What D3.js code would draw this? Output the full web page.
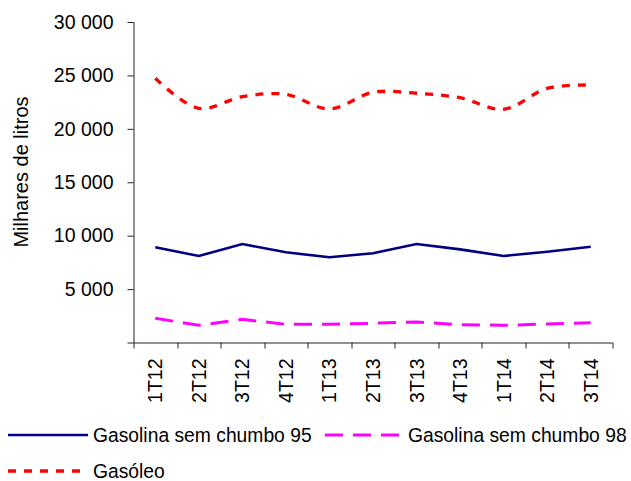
<html>
<head>
    <meta charset="utf-8">
    <title>Milhares de litros</title>
    <script src="https://d3js.org/d3.v7.min.js"></script>
    <style>
        body { margin: 0; background: #fff; }
        text { font-family: "Liberation Sans", Arial, sans-serif; fill: #000; }
    </style>
</head>
<body>
    <div id="cont"></div>
    <script>
        var categories = ['1T12', '2T12', '3T12', '4T12', '1T13', '2T13', '3T13', '4T13', '1T14', '2T14', '3T14'];
        var gasolina95 = [8910, 8100, 9220, 8440, 7980, 8350, 9220, 8720, 8100, 8500, 8970];
        var gasolina98 = [2270, 1610, 2170, 1700, 1700, 1800, 1920, 1670, 1610, 1730, 1850];
        var gasoleo = [24730, 21920, 23010, 23230, 21860, 23420, 23330, 22910, 21830, 23790, 24100];
        var yTicks = [0, 5000, 10000, 15000, 20000, 25000, 30000];
        var seriesNames = ['Gasolina sem chumbo 95', 'Gasolina sem chumbo 98', 'Gasóleo'];

        (function() {
            var W = 631, H = 481,
                margin = { top: 22, right: 18.5, bottom: 138.5, left: 133.5 },
                width = W - margin.left - margin.right,
                height = H - margin.top - margin.bottom;

            var fmt = d3.formatLocale({ decimal: ',', thousands: ' ', grouping: [3], currency: ['', ''] }).format(',d');

            var series = [
                { name: seriesNames[0], values: gasolina95, color: '#000080', width: 2.6, dash: null, curve: d3.curveLinear },
                { name: seriesNames[1], values: gasolina98, color: '#ff00ff', width: 3, dash: '18,10', curve: d3.curveLinear },
                { name: seriesNames[2], values: gasoleo, color: '#ff0000', width: 3.3, dash: '8,8', curve: d3.curveCatmullRom }
            ];

            var svg = d3.select('#cont').append('svg')
                .attr('width', W)
                .attr('height', H);

            var g = svg.append('g')
                .attr('transform', 'translate(' + margin.left + ',' + margin.top + ')');

            var xScale = d3.scaleBand().domain(categories).range([0, width]).padding(0);
            var yScale = d3.scaleLinear().domain([0, 30000]).range([height, 0]);

            // y axis
            var yAxis = d3.axisLeft(yScale)
                .tickValues(yTicks)
                .tickSize(6)
                .tickPadding(14)
                .tickFormat(function(d) { return d === 0 ? '' : fmt(d); });
            var ya = g.append('g').attr('class', 'yaxis').call(yAxis);
            ya.select('.domain').attr('stroke', '#222').attr('d', 'M0.5,' + yScale(30000) + 'V' + height);
            ya.selectAll('.tick line').attr('stroke', '#222');
            ya.selectAll('text').style('font-size', '19.5px').attr('font-family', null);

            // x axis: labels at band centres, ticks at band edges
            var xAxis = d3.axisBottom(xScale).tickSize(0).tickPadding(0);
            var xa = g.append('g').attr('class', 'xaxis')
                .attr('transform', 'translate(0,' + height + ')')
                .call(xAxis);
            xa.select('.domain').attr('stroke', '#222').attr('d', 'M0,0.5H' + width);
            xa.selectAll('text')
                .style('font-size', '19.5px')
                .attr('font-family', null)
                .style('text-anchor', 'end')
                .attr('x', -16)
                .attr('y', 0)
                .attr('dy', '0.36em')
                .attr('transform', 'rotate(-90)');

            var edges = d3.range(categories.length + 1).map(function(i) {
                return xScale.range()[0] + i * xScale.step();
            });
            xa.selectAll('.edge')
                .data(edges)
                .enter()
                .append('line')
                .attr('class', 'edge')
                .attr('x1', function(d) { return Math.round(d) + 0.5; })
                .attr('x2', function(d) { return Math.round(d) + 0.5; })
                .attr('y1', 0)
                .attr('y2', 6)
                .attr('stroke', '#222');

            // y title
            svg.append('text')
                .attr('transform', 'translate(21,172) rotate(-90)')
                .attr('text-anchor', 'middle')
                .attr('dy', '0.35em')
                .style('font-size', '20px')
                .text('Milhares de litros');

            // lines
            series.forEach(function(s) {
                var line = d3.line()
                    .x(function(d, i) { return xScale(categories[i]) + xScale.bandwidth() / 2; })
                    .y(function(d) { return yScale(d); })
                    .curve(s.curve);
                g.append('path')
                    .datum(s.values)
                    .attr('fill', 'none')
                    .attr('stroke', s.color)
                    .attr('stroke-width', s.width)
                    .attr('stroke-dasharray', s.dash)
                    .attr('d', line);
            });

            // legend
            var legendPos = [
                { x: 8, y: 435, lineLen: 80, tx: 93 },
                { x: 325, y: 435, lineLen: 74, tx: 408 },
                { x: 8, y: 471, lineLen: 80, tx: 93 }
            ];
            var legend = svg.append('g').attr('class', 'legend');
            series.forEach(function(s, i) {
                var p = legendPos[i];
                legend.append('line')
                    .attr('x1', p.x).attr('x2', p.x + p.lineLen)
                    .attr('y1', p.y).attr('y2', p.y)
                    .attr('stroke', s.color)
                    .attr('stroke-width', s.width)
                    .attr('stroke-dasharray', s.dash);
                legend.append('text')
                    .attr('x', p.tx)
                    .attr('y', p.y)
                    .attr('dy', '0.36em')
                    .style('font-size', '19.3px')
                    .text(s.name);
            });
        })();
    </script>
</body>
</html>
